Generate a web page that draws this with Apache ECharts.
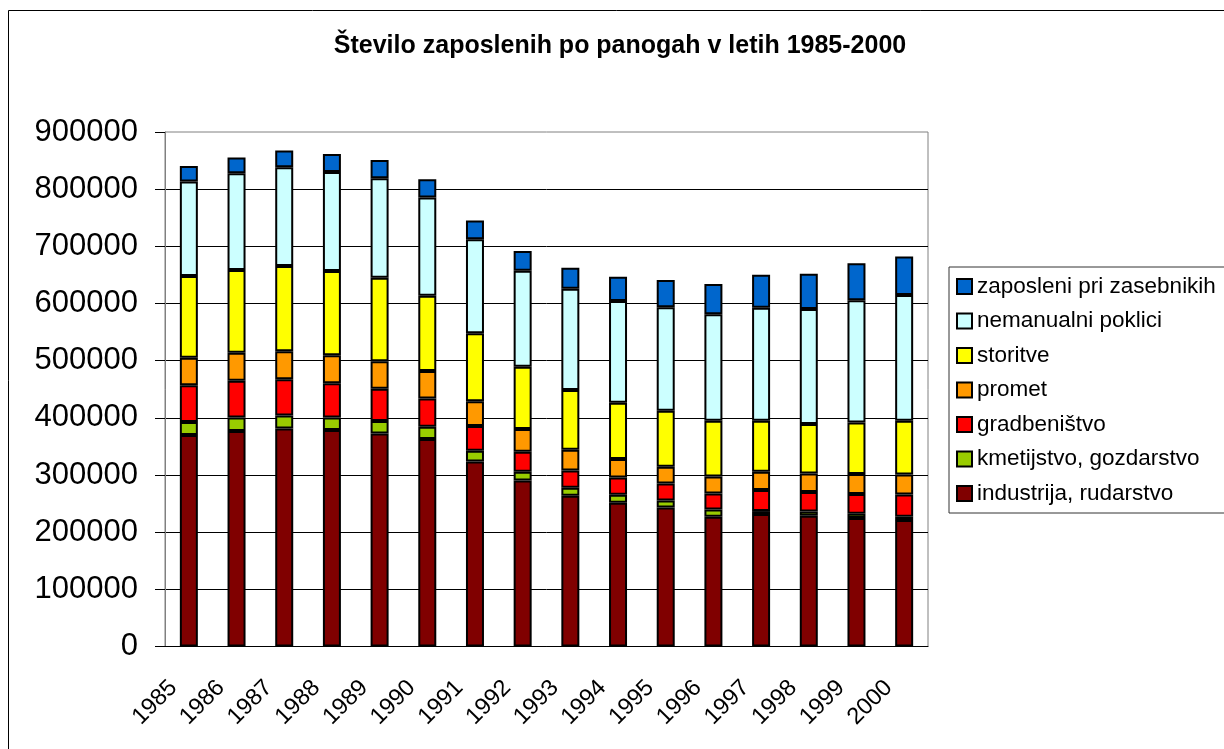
<!DOCTYPE html>
<html>
<head>
<meta charset="utf-8">
<title>Število zaposlenih po panogah</title>
<script src="https://cdn.jsdelivr.net/npm/echarts@6.0.0/dist/echarts.min.js"></script>
<style>
	html, body { margin: 0; padding: 0; background: #fff; }
	#chart { width: 1224px; height: 749px; }
</style>
</head>
<body>
<div id="chart"></div>
<script>
	// leta
	var years = ['1985','1986','1987','1988','1989','1990','1991','1992','1993','1994','1995','1996','1997','1998','1999','2000'];

	// zaposleni po panogah (od spodaj navzgor)
	var industrija   = [369900, 376900, 381500, 378600, 372800, 362900, 323800, 290500, 263700, 251500, 243300, 226900, 231600, 228700, 224600, 221100];
	var kmetijstvo   = [22700, 23900, 22800, 22200, 21600, 21600, 18700, 15200, 14000, 13900, 12200, 12900, 5300, 7600, 7600, 5800];
	var gradbenistvo = [64200, 64200, 63000, 59500, 56600, 49500, 43100, 35000, 30300, 30400, 29800, 28000, 36700, 33800, 34400, 39100];
	var promet       = [48400, 49000, 49000, 49000, 47800, 47900, 43200, 39700, 36200, 32100, 29100, 29700, 32100, 32700, 35000, 35000];
	var storitve     = [143000, 144700, 149400, 147600, 146400, 131800, 119000, 109100, 104400, 98600, 98100, 97500, 89300, 86300, 90400, 94000];
	var nemanualni   = [165100, 169100, 172700, 173300, 173900, 171600, 164500, 168000, 177400, 177900, 180800, 186100, 197700, 201300, 213600, 219900];
	var zasebniki    = [27400, 27500, 29100, 31500, 32100, 32000, 32700, 34400, 36700, 42600, 47900, 53100, 57800, 61800, 64700, 67100];

	var yTicks = [0, 100000, 200000, 300000, 400000, 500000, 600000, 700000, 800000, 900000];

	var font = '"Liberation Sans", Arial, sans-serif';

	function bar(name, data, color) {
		return {
			name: name,
			type: 'bar',
			stack: 'skupaj',
			barWidth: 18,
			data: data,
			itemStyle: { color: color, borderColor: '#000', borderWidth: 2 }
		};
	}

	var myChart = echarts.init(document.getElementById('chart'));
	myChart.setOption({
		animation: false,
		backgroundColor: '#fff',
		graphic: [
			{
				// okvir grafa
				type: 'rect',
				shape: { x: 8.5, y: 10.5, width: 1240, height: 760 },
				style: { fill: 'none', stroke: '#000', lineWidth: 1 },
				silent: true
			},
			{
				type: 'text',
				x: 620,
				y: 46,
				style: {
					text: 'Število zaposlenih po panogah v letih 1985-2000',
					font: 'bold 25px ' + font,
					fill: '#000',
					textAlign: 'center',
					textVerticalAlign: 'middle'
				}
			}
		],
		legend: {
			orient: 'vertical',
			left: 949,
			top: 267,
			padding: [8, 30, 8, 7],
			itemGap: 11.5,
			itemWidth: 15,
			itemHeight: 15,
			icon: 'rect',
			borderColor: '#333',
			borderWidth: 1,
			textStyle: { fontFamily: font, fontSize: 22.5, color: '#000' },
			data: ['zaposleni pri zasebnikih', 'nemanualni poklici', 'storitve', 'promet', 'gradbeništvo', 'kmetijstvo, gozdarstvo', 'industrija, rudarstvo']
		},
		grid: {
			left: 165,
			right: 296,
			top: 132,
			bottom: 102.5,
			show: true,
			borderColor: '#808080',
			borderWidth: 1
		},
		xAxis: {
			type: 'category',
			data: years,
			axisLine: { lineStyle: { color: '#000', width: 1 } },
			axisTick: { length: 8, lineStyle: { color: '#000' } },
			axisLabel: {
				rotate: 45,
				margin: 22,
				padding: [0, 22, 0, 0],
				fontFamily: font,
				fontSize: 23.5,
				color: '#000',
				interval: 0
			}
		},
		yAxis: {
			type: 'value',
			min: yTicks[0],
			max: yTicks[yTicks.length - 1],
			interval: 100000,
			axisLine: { show: true, lineStyle: { color: '#808080' } },
			axisTick: { show: true, length: 10, lineStyle: { color: '#000' } },
			axisLabel: {
				margin: 27,
				fontFamily: font,
				fontSize: 31,
				color: '#000',
				formatter: function (v) { return String(v); }
			},
			splitLine: { show: true, showMaxLine: false, lineStyle: { color: '#000', width: 1 } }
		},
		series: [
			bar('industrija, rudarstvo', industrija, '#800000'),
			bar('kmetijstvo, gozdarstvo', kmetijstvo, '#99CC00'),
			bar('gradbeništvo', gradbenistvo, '#FF0000'),
			bar('promet', promet, '#FF9900'),
			bar('storitve', storitve, '#FFFF00'),
			bar('nemanualni poklici', nemanualni, '#CCFFFF'),
			bar('zaposleni pri zasebnikih', zasebniki, '#0066CC')
		]
	});
</script>
</body>
</html>
